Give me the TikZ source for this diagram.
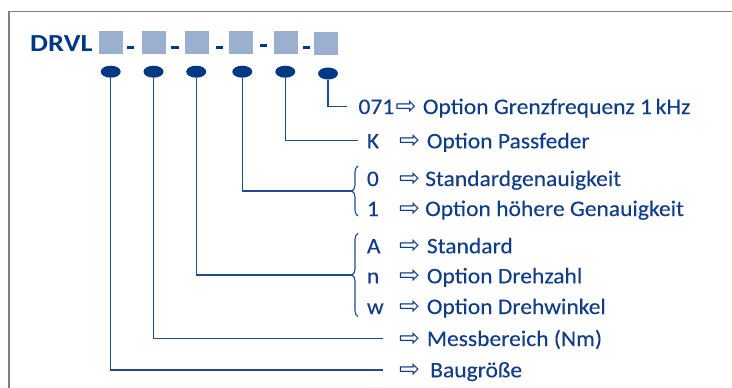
\documentclass[tikz,border=0pt]{standalone}
\usepackage{fontspec}
\setmainfont{Carlito}[FakeStretch=1.06, FakeBold=0.15]
\newfontfamily\titlefont{Carlito}[FakeStretch=1.16]
\newfontfamily\arrowfont{DejaVu Sans}
\usetikzlibrary{shapes.geometric,decorations.pathreplacing}
\definecolor{dblue}{RGB}{0,56,131}
\definecolor{tblue}{RGB}{16,60,136}
\definecolor{lblue}{RGB}{28,74,148}
\definecolor{sqcol}{RGB}{155,176,207}
\definecolor{framecol}{RGB}{128,128,128}
\tikzset{
  codesq/.style={rectangle, fill=sqcol, minimum width=24pt, minimum height=23.6pt, inner sep=0pt},
  dashbox/.style={rectangle, fill=dblue, minimum width=7.5pt, minimum height=3.2pt, inner sep=0pt},
  dot/.style={ellipse, fill=dblue, minimum width=20pt, minimum height=12pt, inner sep=0pt},
  lbl/.style={anchor=base west, inner sep=0pt, text=tblue, font=\fontsize{22.2}{24}\selectfont},
  arr/.style={anchor=base west, inner sep=0pt, text=tblue, font=\arrowfont\fontsize{25}{27}\selectfont},
  conn/.style={draw=lblue, line width=1.2pt},
  brc/.style={draw=lblue, line width=1.1pt, decorate, decoration={brace, amplitude=6pt}}
}
\begin{document}
\begin{tikzpicture}[x=1pt,y=-1pt]
\useasboundingbox (0,0) rectangle (732,388);
\draw[framecol, line width=1.5pt] (9,388) -- (9,11.5) -- (732,11.5);

\node[anchor=base west, inner sep=0pt, text=dblue, font=\titlefont\bfseries\fontsize{24.5}{26}\selectfont] (title) at (30,51.7) {DRVL};

\node[codesq] (s1) at (111.3,42.5) {};
\node[codesq] (s2) at (153.9,42.5) {};
\node[codesq] (s3) at (196.6,42.5) {};
\node[codesq] (s4) at (241.3,42.5) {};
\node[codesq] (s5) at (286.0,42.5) {};
\node[codesq] (s6) at (326.2,43.3) {};
\node[dashbox] (d1) at (130.5,47.3) {};
\node[dashbox] (d2) at (175.0,47.3) {};
\node[dashbox] (d3) at (219.5,47.3) {};
\node[dashbox] (d4) at (263.7,45.8) {};
\node[dashbox] (d5) at (306.3,47.3) {};

% connectors endpoints
\coordinate (c6) at (346.7,106.7);
\coordinate (c5) at (358.3,140.5);
\coordinate (b4) at (351.5,191);
\coordinate (b3) at (351.5,275);
\coordinate (c2) at (383.3,338.3);
\coordinate (c1) at (383.3,370);

\node[dot] (e1) at (110.7,71.7) {};
\node[dot] (e2) at (153.5,71.7) {};
\node[dot] (e3) at (196.2,71.7) {};
\node[dot] (e4) at (242.3,71.7) {};
\node[dot] (e5) at (285.3,71.7) {};
\node[dot] (e6) at (328.0,73.5) {};

\draw[conn] (e6) |- (c6);
\draw[conn] (e5) |- (c5);
\draw[conn] (e4) |- (b4);
\draw[conn] (e3) |- (b3);
\draw[conn] (e2) |- (c2);
\draw[conn] (e1) |- (c1);

\draw[brc] (358,216) -- (358,166);
\draw[brc] (358,316.7) -- (358,233.3);

% row 1
\node[lbl] (k1) at (358.3,114) {071};
\node[arr] (a1) at (395.5,114) {⇨};
\node[lbl] (t1) at (422.7,114) {Option Grenzfrequenz 1\,kHz};
% row 2
\node[lbl] (k2) at (366.7,148.3) {K};
\node[arr] (a2) at (399,148.3) {⇨};
\node[lbl] (t2) at (426.7,148.3) {Option Passfeder};
% row 3
\node[lbl] (k3) at (366.7,186) {0};
\node[arr] (a3) at (399,186) {⇨};
\node[lbl] (t3) at (425,186) {Standardgenauigkeit};
% row 4
\node[lbl] (k4) at (366.7,216) {1};
\node[arr] (a4) at (399,216) {⇨};
\node[lbl] (t4) at (425,216) {Option höhere Genauigkeit};
% row 5
\node[lbl] (k5) at (366.7,253.3) {A};
\node[arr] (a5) at (399,253.3) {⇨};
\node[lbl] (t5) at (426.7,253.3) {Standard};
% row 6
\node[lbl] (k6) at (366.7,283.3) {n};
\node[arr] (a6) at (399,283.3) {⇨};
\node[lbl] (t6) at (426.7,283.3) {Option Drehzahl};
% row 7
\node[lbl] (k7) at (366.7,314) {w};
\node[arr] (a7) at (399,314) {⇨};
\node[lbl] (t7) at (426.7,314) {Option Drehwinkel};
% row 8
\node[arr] (a8) at (399,346) {⇨};
\node[lbl] (t8) at (426.7,346) {Messbereich (Nm)};
% row 9
\node[arr] (a9) at (399,377.3) {⇨};
\node[lbl] (t9) at (430,377.3) {Baugröße};
\end{tikzpicture}
\end{document}
